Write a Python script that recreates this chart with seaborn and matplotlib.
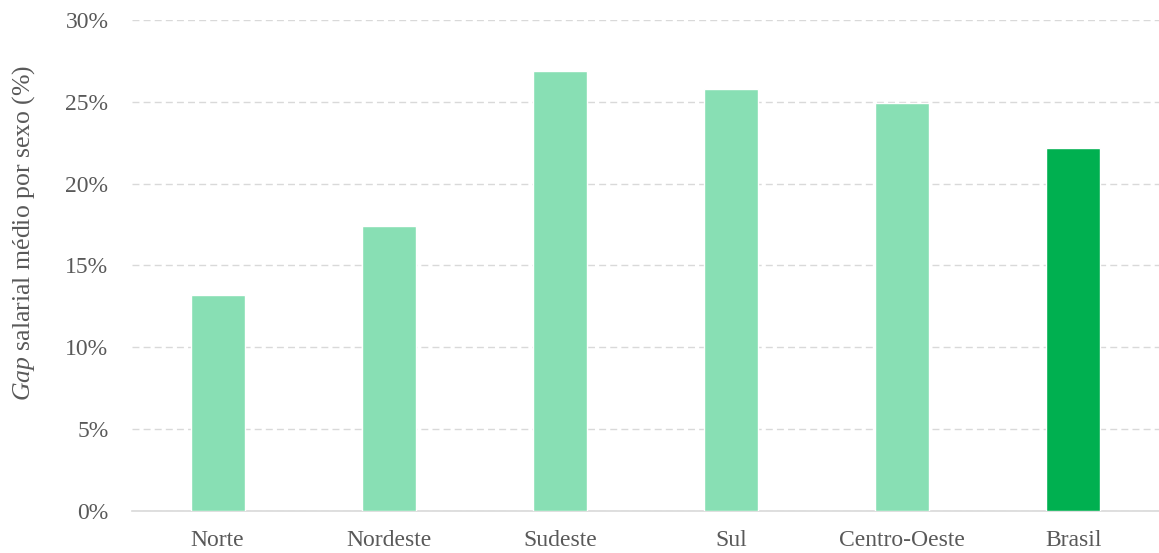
import matplotlib
matplotlib.use("Agg")
import matplotlib.pyplot as plt
import seaborn as sns
import pandas as pd
from matplotlib.ticker import FuncFormatter, MultipleLocator

regioes = ["Norte", "Nordeste", "Sudeste", "Sul", "Centro-Oeste", "Brasil"]
gap_pct = [13.2, 17.4, 26.9, 25.8, 24.9, 22.2]
cores = ["#88dfb4", "#88dfb4", "#88dfb4", "#88dfb4", "#88dfb4", "#00b050"]

sns.set_theme(style="white")
plt.rcParams["font.family"] = ["Liberation Serif", "DejaVu Serif"]
plt.rcParams["mathtext.fontset"] = "custom"
plt.rcParams["mathtext.rm"] = "Liberation Serif"
plt.rcParams["mathtext.it"] = "Liberation Serif:italic"

df = pd.DataFrame({"regiao": regioes, "gap": gap_pct})

fig = plt.figure(figsize=(11.59, 5.53), dpi=100)
ax = fig.add_axes([0.1139, 0.0760, 0.8861, 0.8878])

sns.barplot(data=df, x="regiao", y="gap", hue="regiao", palette=cores,
            legend=False, width=0.315, saturation=1, ax=ax, zorder=3)

ax.set_ylim(0, 30)
ax.set_xlim(-0.5, 5.5)
ax.yaxis.set_major_locator(MultipleLocator(5))
ax.yaxis.set_major_formatter(FuncFormatter(lambda v, _: f"{v:.0f}%"))

ax.grid(axis="y", color="#d9d9d9", linestyle=(0, (5, 3)), linewidth=1, zorder=0)
ax.grid(axis="x", visible=False)
for s in ("top", "right", "left"):
    ax.spines[s].set_visible(False)
ax.spines["bottom"].set_color("#d9d9d9")
ax.spines["bottom"].set_linewidth(1.2)

ax.tick_params(axis="both", length=0, labelsize=17, colors="#595959")
ax.tick_params(axis="y", pad=17)
ax.tick_params(axis="x", pad=14)
ax.set_xlabel("")
ax.set_ylabel("")

# Axis title, placed in figure coordinates
fig.text(24 / 1159, 1 - 233 / 553, r"$\mathit{Gap}$ salarial médio por sexo (%)",
         rotation=90, ha="center", va="center", fontsize=18.5, color="#595959")

fig.savefig("out.png", dpi=100)
